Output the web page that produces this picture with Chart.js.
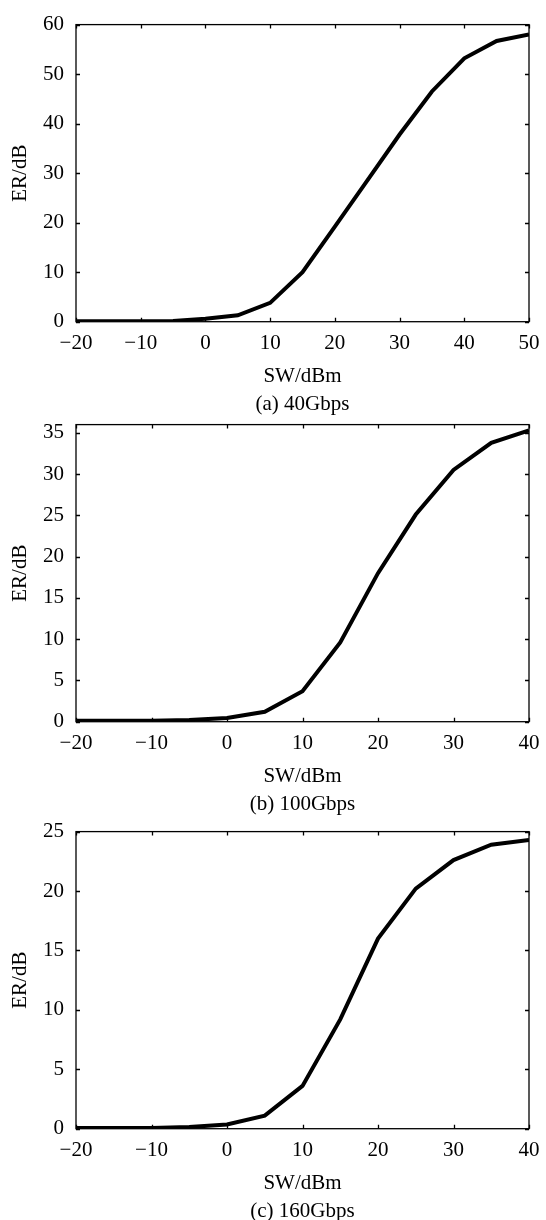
<!DOCTYPE html>
<html>
<head>
<meta charset="utf-8">
<script src="https://cdn.jsdelivr.net/npm/chart.js@4.4.0/dist/chart.umd.min.js"></script>
<style>
  body { margin: 0; background: #fff; }
  #wrap { position: relative; width: 546px; height: 1220px; overflow: hidden; }
  .panel { position: absolute; left: 0; }
</style>
</head>
<body>
<div id="wrap">
  <canvas id="chartA" class="panel" width="546" height="417" style="top:0px"></canvas>
  <canvas id="chartB" class="panel" width="546" height="417" style="top:400px"></canvas>
  <canvas id="chartC" class="panel" width="546" height="417" style="top:807px"></canvas>
</div>
<script>
// SW power (dBm) sample points
const swA = [-20, -15, -10, -5, 0, 5, 10, 15, 20, 25, 30, 35, 40, 45, 50];
const erA = [0.1, 0.1, 0.1, 0.15, 0.6, 1.3, 3.8, 10.0, 19.2, 28.5, 37.8, 46.5, 53.2, 56.7, 58.0];

const swB = [-20, -15, -10, -5, 0, 5, 10, 15, 20, 25, 30, 35, 40];
const erB = [0.1, 0.1, 0.1, 0.2, 0.45, 1.2, 3.7, 9.6, 18.0, 25.1, 30.5, 33.8, 35.3];

const swC = [-20, -15, -10, -5, 0, 5, 10, 15, 20, 25, 30, 35, 40];
const erC = [0.05, 0.05, 0.05, 0.15, 0.35, 1.1, 3.6, 9.2, 16.0, 20.2, 22.6, 23.9, 24.3];

const FONT = "'Liberation Serif', 'DejaVu Serif', serif";

// box around plot + inward ticks on all four sides
const frameTicks = {
    id: 'frameTicks',
    afterDatasetsDraw(chart) {
        const { ctx, chartArea: a, scales: { x, y } } = chart;
        const len = 4;
        ctx.save();
        ctx.strokeStyle = '#000';
        ctx.lineWidth = 1.3;
        ctx.strokeRect(a.left, a.top, a.right - a.left, a.bottom - a.top);
        ctx.beginPath();
        x.ticks.forEach(t => {
            const px = Math.round(x.getPixelForValue(t.value)) + 0.5;
            ctx.moveTo(px, a.bottom); ctx.lineTo(px, a.bottom - len);
            ctx.moveTo(px, a.top); ctx.lineTo(px, a.top + len);
        });
        y.ticks.forEach(t => {
            const py = Math.round(y.getPixelForValue(t.value)) + 0.5;
            ctx.moveTo(a.left, py); ctx.lineTo(a.left + len, py);
            ctx.moveTo(a.right, py); ctx.lineTo(a.right - len, py);
        });
        ctx.stroke();
        ctx.restore();
    }
};

function makeChart(id, sw, er, xMax, yMax, yStep, caption) {
    const ctx = document.getElementById(id).getContext('2d');
    return new Chart(ctx, {
        type: 'line',
        data: {
            datasets: [{
                data: sw.map((v, i) => ({ x: v, y: er[i] })),
                borderColor: '#000',
                borderWidth: 4,
                pointRadius: 0,
                tension: 0,
                fill: false
            }]
        },
        options: {
            responsive: false,
            animation: false,
            layout: { padding: { top: 11, right: 0, left: 3, bottom: 0 } },
            plugins: {
                legend: { display: false },
                tooltip: { enabled: false },
                title: {
                    display: true,
                    position: 'bottom',
                    fullSize: false,
                    text: caption,
                    color: '#000',
                    font: { family: FONT, size: 21, weight: 'normal' },
                    padding: { top: 4, bottom: 0 }
                }
            },
            scales: {
                x: {
                    type: 'linear',
                    min: -20,
                    max: xMax,
                    grid: { display: false, drawTicks: false },
                    border: { display: false },
                    afterFit: s => { s.paddingRight = 17; },
                    ticks: {
                        stepSize: 10,
                        padding: 11,
                        color: '#000',
                        font: { family: FONT, size: 21, lineHeight: 1.0 },
                        callback: v => v < 0 ? '\u2212' + Math.abs(v) : String(v)
                    },
                    title: {
                        display: true,
                        text: 'SW/dBm',
                        color: '#000',
                        font: { family: FONT, size: 21, lineHeight: 1.1 },
                        padding: { top: 0, bottom: 0 }
                    }
                },
                y: {
                    min: 0,
                    max: yMax,
                    grid: { display: false, drawTicks: false },
                    border: { display: false },
                    ticks: {
                        stepSize: yStep,
                        includeBounds: false,
                        padding: 12,
                        color: '#000',
                        font: { family: FONT, size: 21 }
                    },
                    title: {
                        display: true,
                        text: 'ER/dB',
                        color: '#000',
                        font: { family: FONT, size: 21, lineHeight: 1.0 },
                        padding: { top: 7, bottom: 0 }
                    }
                }
            }
        },
        plugins: [frameTicks]
    });
}

makeChart('chartA', swA, erA, 50, 60, 10, '(a) 40Gbps');
makeChart('chartB', swB, erB, 40, 36, 5, '(b) 100Gbps');
makeChart('chartC', swC, erC, 40, 25, 5, '(c) 160Gbps');
</script>
</body>
</html>
